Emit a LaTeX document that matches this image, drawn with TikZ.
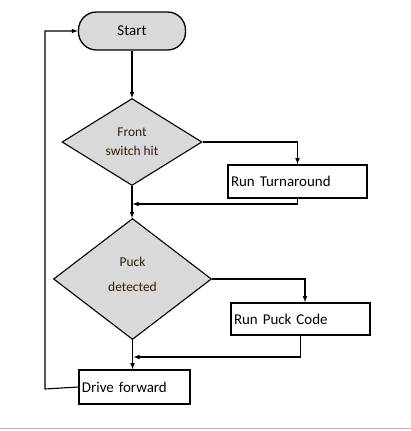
\documentclass[tikz,border=0pt]{standalone}
\usepackage{fontspec}
\setmainfont{Carlito}
\usetikzlibrary{arrows, arrows.meta, shapes.geometric}
\definecolor{boxgray}{RGB}{217,217,217}
\definecolor{asktext}{RGB}{48,30,10}

\begin{document}
\begin{tikzpicture}[>=latex, x=1bp, y=-1bp,
  startbox/.style={draw, line width=1.3bp, fill=boxgray, rounded corners=18bp,
    minimum width=107bp, minimum height=38bp, font=\fontsize{15}{18}\selectfont},
  askbox/.style={draw, diamond, line width=1.1bp, fill=boxgray, inner sep=0pt},
  askword/.style={align=center, text=asktext, inner sep=0pt,
    font=\fontsize{13.5}{19}\selectfont},
  workbox/.style={draw, line width=1.6bp, inner xsep=3bp, align=left,
    font=\fontsize{15}{18}\selectfont},
  link/.style={line width=1.1bp}]

  \useasboundingbox (0,0) rectangle (411,431);

  \node [startbox] (start) at (132,31) {Start};
  \node [askbox, minimum width=140bp, minimum height=87bp] (front) at (132,142) {};
  \node [askword] (frontword) at ([yshift=0.5bp]front.center) {Front\\switch hit};
  \node [workbox, minimum width=139bp, minimum height=33bp, text width=133bp]
    (turn) at (297.5,181.5) {Run Turnaround};
  \node [askbox, minimum width=158bp, minimum height=121bp] (puck) at (132.5,279) {};
  \node [askword] (puckword) at ([yshift=4.5bp]puck.center) {Puck\\[6bp]detected};
  \node [workbox, minimum width=139bp, minimum height=32bp, text width=133bp]
    (puckcode) at (300.5,319) {Run Puck Code};
  \node [workbox, minimum width=111bp, minimum height=34bp, text width=105bp]
    (drive) at (134.5,387) {Drive forward};

  \coordinate (join1) at (132.5,204);
  \coordinate (join2) at (133.5,357);
  \coordinate (back) at (45,389);

  \draw [->,link] (start) -- (front);
  \draw [->,link] (front.east) -| (turn.north);
  \draw [->,link] (turn.south) |- (join1);
  \draw [->,link] (front.south) -- (front.south |- puck.north);
  \draw [->,link] (puck.east) -| ([xshift=4.5bp]puckcode.north);
  \draw [->,link] (puckcode.south) |- (join2);
  \draw [->,link] (puck.south) -- (puck.south |- drive.north);
  \draw [->,link] (drive.west) -- (back) |- (start.west);

  \draw [black!30, line width=1bp] (0,428) -- (411,428);

\end{tikzpicture}
\end{document}
